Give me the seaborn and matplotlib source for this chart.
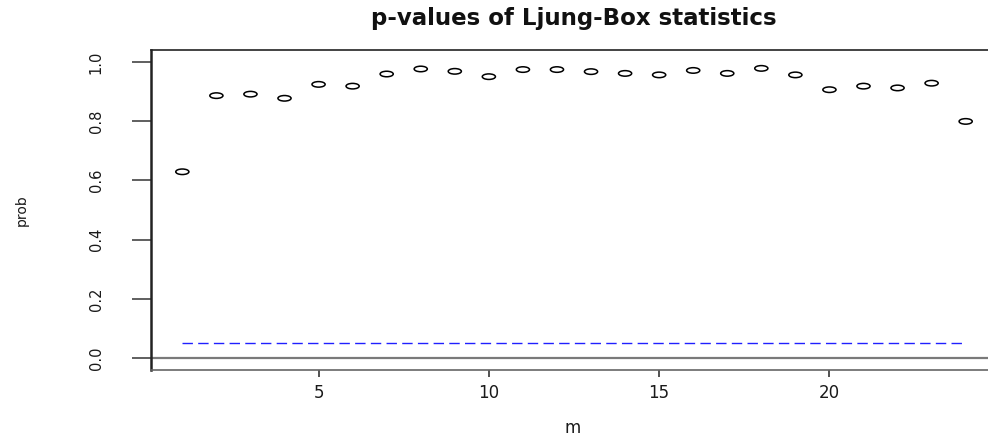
import matplotlib
matplotlib.use("Agg")
import matplotlib.pyplot as plt
from matplotlib.path import Path
from matplotlib.transforms import Affine2D
import pandas as pd
import seaborn as sns

# Ljung-Box p-values for lags 1..24
lags = list(range(1, 25))
pvalues = [0.629, 0.886, 0.891, 0.877, 0.924, 0.918, 0.959, 0.976,
           0.968, 0.950, 0.974, 0.974, 0.967, 0.961, 0.956, 0.971,
           0.961, 0.978, 0.956, 0.906, 0.918, 0.912, 0.928, 0.799]
significance = 0.05
xticks = [5, 10, 15, 20]
yticks = [0.0, 0.2, 0.4, 0.6, 0.8, 1.0]
ytick_labels = ["0.0", "0.2", "0.4", "0.6", "0.8", "1.0"]

df = pd.DataFrame({"m": lags, "prob": pvalues})

sns.set_theme(style="white")
plt.rcParams["font.family"] = ["DejaVu Sans"]

W, H = 988, 440
fig = plt.figure(figsize=(W / 100, H / 100), dpi=100)
fig.patch.set_facecolor("white")

# plot region (right edge runs past the figure border)
left, right, top, bottom = 151, 997, 50, 370
ax = fig.add_axes([left / W, (H - bottom) / H, (right - left) / W, (bottom - top) / H])

# open circle markers, widened horizontally
oval = Path.unit_circle().transformed(Affine2D().scale(1.0, 0.42))

sns.scatterplot(data=df, x="m", y="prob", ax=ax, marker=oval, s=90,
                facecolors="none", edgecolor="black", linewidth=1.1,
                legend=False, zorder=3)

ax.axhline(0, color="#7a7a7a", lw=1.6, zorder=1)
ax.plot([lags[0], lags[-1]], [significance, significance], color="#2020ff",
        lw=1.0, dashes=(7.5, 3.8), zorder=2)

ax.set_xlim(0.08, 24.92)
ax.set_ylim(-0.04, 1.04)
ax.set_xticks(xticks)
ax.set_xticklabels([str(t) for t in xticks])
ax.set_yticks(yticks)
ax.set_yticklabels(ytick_labels, rotation=90, va="center")

txt = "#1a1a1a"
ax.tick_params(axis="x", length=5, width=1.2, pad=5.4, labelsize=12,
               colors="#333333", labelcolor=txt, bottom=True)
ax.tick_params(axis="y", length=13.7, width=1.2, pad=20.5, labelsize=10.5,
               colors="#444444", labelcolor=txt, left=True)

for side in ["left", "top", "bottom"]:
    ax.spines[side].set_visible(True)
    ax.spines[side].set_color("#222222")
ax.spines["left"].set_linewidth(1.8)
ax.spines["top"].set_linewidth(1.2)
ax.spines["bottom"].set_linewidth(1.2)
ax.spines["bottom"].set_color("#666666")
ax.spines["right"].set_visible(False)

ax.set_xlabel("m", fontsize=12, color=txt, va="baseline")
ax.xaxis.set_label_coords((573 - left) / (right - left), (bottom - 433) / (bottom - top))
ax.set_ylabel("prob", fontsize=10, color=txt, va="center")
ax.yaxis.set_label_coords((22 - left) / (right - left), 0.5)
ax.grid(False)

fig.text(574 / W, 1 - 25 / H, "p-values of Ljung-Box statistics",
         ha="center", va="baseline", fontsize=16.5, fontweight="bold", color="#111111")

fig.savefig("out.png", dpi=100, facecolor="white")
